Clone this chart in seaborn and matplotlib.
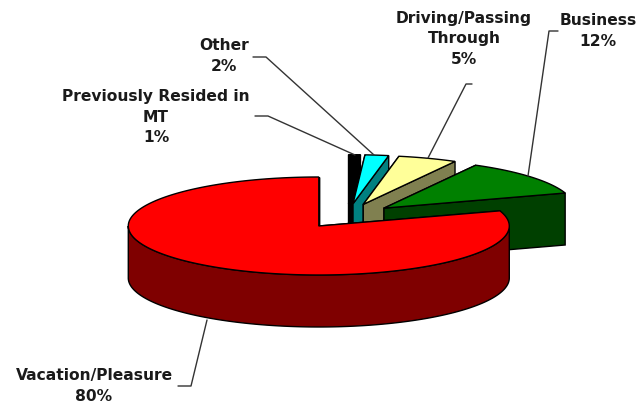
import numpy as np
import matplotlib
matplotlib.use("Agg")
import matplotlib.pyplot as plt
import seaborn as sns

# Data, clockwise from 12 o'clock
categories = ["Previously Resided in\nMT", "Other", "Driving/Passing\nThrough", "Business", "Vacation/Pleasure"]
values = [1, 2, 5, 12, 80]
top_colors = ["#000000", "#00FFFF", "#FFFF99", "#008000", "#FF0000"]
side_colors = ["#000000", "#008080", "#808050", "#004000", "#7F0000"]

sns.set_theme(style="white")
plt.rcParams["font.family"] = ["DejaVu Sans"]

fig, ax = plt.subplots(figsize=(6.39, 4.04), dpi=100)
ax.set_position([0, 0, 1, 1])
ax.set_xlim(0, 639)
ax.set_ylim(404, 0)
ax.axis("off")

# Pie projection
cx, cy = 347.0, 216.0
rx, ry = 190.5, 49.0
depth = 52.0
explode = 48.0
EC = "#000000"
LW = 1.0


def pt(center, t, r=1.0):
    return center[0] + r * rx * np.sin(t), center[1] - r * ry * np.cos(t)


edges = np.radians(np.concatenate([[0], np.cumsum(values)]) * 360 / sum(values))
for i, v in enumerate(values):
    a0, a1 = edges[i], edges[i + 1]
    mid = (a0 + a1) / 2
    c = (cx + explode * np.sin(mid), cy - explode * ry / rx * np.cos(mid))
    # cut faces
    for a in (a0, a1):
        ex, ey = pt(c, a)
        ax.fill([c[0], ex, ex, c[0]], [c[1], ey, ey + depth, c[1] + depth],
                facecolor=side_colors[i], edgecolor=EC, linewidth=LW, zorder=i * 3 + 1)
    # outer wall on the front half
    lo, hi = max(a0, np.pi / 2), min(a1, 3 * np.pi / 2)
    if hi > lo:
        t = np.linspace(lo, hi, 200)
        xs, ys = pt(c, t)
        ax.fill(np.r_[xs, xs[::-1]], np.r_[ys, ys[::-1] + depth],
                facecolor=side_colors[i], edgecolor=EC, linewidth=LW, zorder=i * 3 + 2)
    # top
    t = np.linspace(a0, a1, 300)
    xs, ys = pt(c, t)
    ax.fill(np.r_[c[0], xs], np.r_[c[1], ys],
            facecolor=top_colors[i], edgecolor=EC, linewidth=LW, zorder=i * 3 + 3)

# Leader lines
leaders = [
    ([255, 268, 355], [116, 116, 155]),
    ([253, 266, 374], [57, 57, 155]),
    ([472, 466, 428], [84, 84, 158]),
    ([558, 549, 528], [31, 31, 176]),
    ([178, 191, 207], [386, 386, 320]),
]
for lx, ly in leaders:
    ax.plot(lx, ly, color="#333333", lw=1.0, zorder=30)

# Labels
label_pos = [(156, 117), (224, 56), (464, 39), (598, 31), (94, 386)]
for name, v, (x, y) in zip(categories, values, label_pos):
    ax.text(x, y, f"{name}\n{v}%", ha="center", va="center", fontsize=11.2,
            fontweight="bold", color="#1a1a1a", linespacing=1.42, zorder=31)

fig.savefig("out.png", dpi=100, facecolor="white")
